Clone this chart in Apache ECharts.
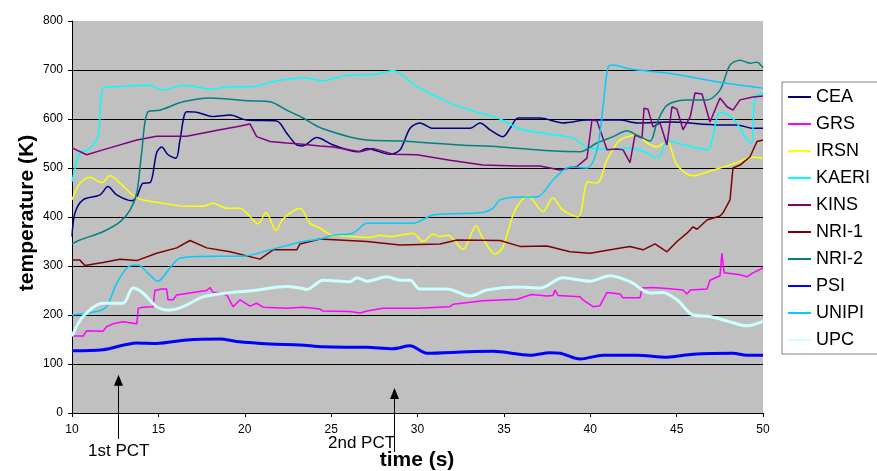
<!DOCTYPE html>
<html>
<head>
<meta charset="utf-8">
<script src="https://cdn.jsdelivr.net/npm/echarts@6/dist/echarts.min.js"></script>
<style>
html,body{margin:0;padding:0;background:#fff;}
#c{width:877px;height:471px;}
</style>
</head>
<body>
<div id="c"></div>
<script>
const seriesNames = ['CEA','GRS','IRSN','KAERI','KINS','NRI-1','NRI-2','PSI','UNIPI','UPC'];
const xTicks = {min: 10, max: 50, interval: 5};
const yTicks = {min: 0, max: 800, interval: 100};
const pctTimes = [12.68, 28.64];
const pctTips = [78, 51];
const pctLabels = ['1st PCT', '2nd PCT'];

const CEA = [[10,360],[10.17,408],[10.64,435],[11.62,445],[12.08,462],[12.59,445],[13.46,433],[13.75,441],[14.11,469],[14.52,470],[14.9,531],[15.19,543],[15.56,527],[16.02,520],[16.25,557],[16.64,615],[17.22,614],[18.16,605],[19.15,608],[20.11,598],[21.85,596],[22.43,571],[23.01,547],[23.35,545],[24.17,562],[25.11,547],[26.56,533],[27.06,540],[28.41,528],[28.99,537],[29.57,581],[30.14,592],[30.9,581],[33.04,581],[33.62,592],[34.2,578],[34.95,564],[35.36,581],[35.82,602],[37.09,602],[38.42,592],[39.81,598],[41.72,598],[42.71,592],[44.62,594],[47.51,588],[48.49,588],[49.42,581],[50,581]];
const GRS = [[10,157],[10.64,157],[10.85,168],[11.79,167],[12.0,176],[12.37,182],[12.95,186],[13.75,182],[13.84,214],[14.11,216],[14.69,217],[14.8,250],[15.19,253],[15.48,253],[15.56,231],[15.85,231],[16.06,241],[17.0,246],[17.8,250],[17.99,256],[18.16,246],[18.38,246],[18.96,241],[19.32,217],[19.73,231],[20.3,218],[20.69,224],[21.06,216],[22.43,214],[23.37,216],[24.36,212],[24.53,208],[26.09,207],[26.67,204],[27.08,208],[28.0,214],[29.97,214],[31.88,217],[32.06,222],[33.79,229],[35.76,232],[36.6,242],[37.5,239],[37.84,240],[37.96,251],[38.13,240],[39.41,237],[39.58,231],[40.16,217],[40.56,219],[40.97,246],[41.72,243],[41.9,235],[42.88,235],[43.0,255],[43.63,256],[44.44,254],[45.37,251],[45.6,243],[45.79,251],[46.76,253],[46.93,271],[47.51,280],[47.62,326],[47.75,286],[48.67,282],[49.07,278],[49.42,286],[50,296]];
const IRSN = [[10,435],[10.46,469],[11.04,481],[11.72,470],[12.2,484],[12.78,469],[13.75,439],[14.9,430],[16.64,422],[17.58,422],[18.16,428],[18.96,418],[19.73,418],[20.3,401],[20.77,386],[21.23,409],[21.81,372],[22.21,396],[23.2,418],[23.78,387],[24.36,377],[24.93,365],[25.9,361],[27.25,358],[27.83,363],[28.41,360],[29.74,367],[30.32,350],[30.9,365],[31.3,360],[31.77,363],[32.63,334],[33.39,382],[33.73,360],[34.49,324],[34.95,339],[35.47,398],[35.93,430],[36.4,443],[37.26,411],[37.84,439],[38.42,414],[39.29,400],[39.87,472],[40.39,469],[40.97,516],[41.72,557],[42.71,567],[43.29,551],[43.86,543],[44.44,554],[45.02,506],[45.95,484],[46.93,494],[48.26,508],[49.42,522],[50,520]];
const KAERI = [[10,472],[10.46,531],[10.93,537],[11.5,563],[11.79,663],[12.5,666],[14.52,669],[15.27,659],[16.43,669],[18.16,661],[19.15,666],[20.3,666],[21.87,678],[23.37,684],[24.53,678],[25.69,688],[27.66,692],[28.58,699],[29.97,666],[31.88,633],[33.44,614],[34.78,600],[35.93,580],[37.67,569],[39.0,561],[39.81,543],[40.97,538],[42.3,541],[43.29,531],[43.63,523],[44.04,525],[44.44,557],[45.02,551],[46.18,541],[46.82,537],[47.05,557],[47.51,614],[47.92,610],[48.49,592],[49.07,557],[49.36,551],[49.54,645],[50,653]];
const KINS = [[10,541],[10.85,527],[11.79,537],[13.75,557],[14.9,565],[16.64,565],[18.57,578],[19.53,584],[20.3,590],[20.69,564],[21.46,554],[22.43,551],[23.2,549],[24.36,545],[25.11,543],[26.67,533],[27.42,540],[28.58,528],[29.97,527],[31.88,516],[33.79,506],[35.76,504],[37.09,504],[38.25,496],[39.23,503],[39.81,520],[40.1,598],[40.39,596],[40.97,537],[41.55,539],[41.9,537],[42.3,511],[42.59,567],[43.0,561],[43.11,622],[43.34,620],[43.63,584],[44.04,592],[44.44,547],[44.73,625],[45.02,620],[45.37,578],[45.79,605],[46.06,653],[46.47,651],[46.93,594],[47.51,643],[47.92,625],[48.26,618],[48.67,639],[49.42,645],[50,647]];
const NRI1 = [[10,312],[10.46,312],[10.75,301],[11.79,307],[12.78,314],[13.75,311],[14.9,326],[16.06,337],[16.83,352],[17.8,337],[19.15,329],[20.88,314],[21.64,333],[23.01,333],[23.2,345],[23.78,350],[24.36,355],[27.08,350],[28.99,343],[31.3,345],[32.29,353],[34.78,352],[35.93,340],[37.5,341],[38.83,329],[39.99,326],[41.32,334],[42.3,340],[43.06,333],[43.75,345],[44.44,329],[45.02,350],[45.6,367],[45.95,380],[46.18,375],[46.76,394],[47.51,402],[47.68,408],[48.09,435],[48.26,500],[48.67,506],[49.25,523],[49.65,554],[50,557]];
const NRI2 = [[10,345],[10.46,353],[11.79,370],[12.78,390],[13.36,414],[13.75,449],[14.03,531],[14.4,615],[15.09,618],[16.43,635],[17.99,643],[20.3,637],[21.46,635],[22.43,618],[23.37,602],[24.53,580],[27.06,557],[28.99,555],[32.46,547],[34.78,543],[37.67,535],[39.41,533],[40.39,551],[41.32,564],[42.13,576],[42.71,567],[43.46,555],[43.86,592],[44.44,628],[45.6,639],[46.76,639],[47.51,659],[48.09,710],[48.67,720],[49.25,714],[49.65,716],[50,704]];
const PSI = [[10,127],[11.79,129],[13.75,143],[14.9,142],[16.64,149],[18.57,151],[19.53,146],[21.46,141],[23.2,139],[24.53,135],[27.08,134],[28.58,131],[29.57,137],[30.55,122],[32.87,125],[34.37,126],[36.51,118],[37.67,123],[38.25,122],[39.41,110],[40.74,118],[42.71,118],[44.44,114],[45.95,120],[48.26,122],[49.07,118],[50,118]];
const UNIPI = [[10,200],[11.43,207],[12.0,217],[12.59,265],[13.24,298],[13.82,302],[14.32,288],[14.98,269],[15.67,296],[16.25,316],[18.16,320],[19.9,320],[21.46,333],[23.37,350],[24.36,355],[25.11,363],[26.27,367],[27.08,387],[29.74,387],[30.9,404],[33.79,409],[34.37,418],[34.78,435],[35.93,441],[36.92,441],[37.84,475],[38.83,502],[39.81,500],[40.39,537],[40.74,625],[41.03,706],[41.32,710],[42.3,702],[44.62,693],[47.51,675],[50,663]];
const UPC = [[10,157],[10.64,197],[11.79,224],[12.95,224],[13.53,255],[14.11,245],[14.9,217],[15.67,210],[16.43,217],[17.58,237],[18.96,245],[20.48,250],[22.43,258],[23.2,255],[23.6,252],[24.53,271],[26.09,268],[26.5,276],[27.08,269],[28.23,278],[28.99,271],[29.57,271],[30.14,253],[31.71,253],[33.04,239],[34.02,251],[35.76,257],[37.09,255],[38.42,276],[39.99,269],[41.14,280],[42.3,268],[43.46,245],[44.21,246],[45.02,231],[45.95,200],[46.93,197],[48.09,186],[49.07,178],[50,187]];

const seriesData = [CEA, GRS, IRSN, KAERI, KINS, NRI1, NRI2, PSI, UNIPI, UPC];
const colors = ['#000080','#FF00FF','#FFFF00','#00FFFF','#800080','#800000','#008080','#0000FF','#00CCFF','#CCFFFF'];
const widths = [1.5,1.5,1.5,1.5,1.5,1.5,1.5,3,1.5,3];
const smooths = [0.3,false,0.3,0.3,false,false,0.3,0.3,0.3,0.3];

const FONT = 'Arial, "Liberation Sans", sans-serif';
const chart = echarts.init(document.getElementById('c'), null, {renderer: 'canvas'});

chart.setOption({
  animation: false,
  backgroundColor: '#ffffff',
  textStyle: {fontFamily: FONT},
  grid: {left: 72, right: 114, top: 21, bottom: 58, show: true, backgroundColor: '#c0c0c0', borderWidth: 0},
  legend: {
    orient: 'vertical', left: 782, top: 82,
    padding: [5, 20, 4, 5],
    itemGap: 7, itemWidth: 23, itemHeight: 14,
    backgroundColor: '#ffffff', borderColor: '#808080', borderWidth: 1, borderRadius: 0,
    itemStyle: {opacity: 0},
    textStyle: {fontFamily: FONT, fontSize: 18, color: '#000', lineHeight: 20},
    data: seriesNames
  },
  xAxis: {
    type: 'value', min: xTicks.min, max: xTicks.max, interval: xTicks.interval,
    axisLine: {lineStyle: {color: '#000', width: 1}},
    axisTick: {length: 4, lineStyle: {color: '#000'}},
    axisLabel: {fontFamily: FONT, fontSize: 12, color: '#000', margin: 11},
    splitLine: {show: false}
  },
  yAxis: {
    type: 'value', min: yTicks.min, max: yTicks.max, interval: yTicks.interval,
    axisLine: {show: true, lineStyle: {color: '#000', width: 1}},
    axisTick: {show: true, length: 4, lineStyle: {color: '#000'}},
    axisLabel: {fontFamily: FONT, fontSize: 12, color: '#000', margin: 9},
    splitLine: {show: true, showMaxLine: false, lineStyle: {color: '#000', width: 1}}
  },
  series: seriesNames.map((n, i) => ({
    name: n, type: 'line', data: seriesData[i],
    symbol: 'none', smooth: smooths[i],
    lineStyle: {color: colors[i], width: widths[i]},
    itemStyle: {color: colors[i]},
    z: 2 + i
  }))
});

const g = [];
pctTimes.forEach((t, i) => {
  const tip = chart.convertToPixel({gridIndex: 0}, [t, pctTips[i]]);
  const x = Math.round(tip[0]) + 0.5;
  const bottom = i === 0 ? 439 : 452;
  g.push({type: 'line', z: 100, shape: {x1: x, y1: tip[1] + 8, x2: x, y2: bottom}, style: {stroke: '#000', lineWidth: 1}});
  g.push({type: 'polygon', z: 100, shape: {points: [[x, tip[1]], [x - 4.5, tip[1] + 11], [x + 4.5, tip[1] + 11]]}, style: {fill: '#000'}});
});
g.push({type: 'text', z: 100, left: 88, top: 443, style: {text: pctLabels[0], font: '17px ' + FONT, fill: '#000'}});
g.push({type: 'text', z: 100, left: 328, top: 435, style: {text: pctLabels[1], font: '17px ' + FONT, fill: '#000'}});
g.push({type: 'text', z: 101, x: 417, y: 460, style: {text: 'time (s)', font: 'bold 21px ' + FONT, fill: '#000', align: 'center', verticalAlign: 'middle'}});
g.push({type: 'text', z: 101, x: 27, y: 213, rotation: Math.PI / 2, style: {text: 'temperature (K)', font: 'bold 21px ' + FONT, fill: '#000', align: 'center', verticalAlign: 'middle'}});
chart.setOption({graphic: g});
</script>
</body>
</html>
